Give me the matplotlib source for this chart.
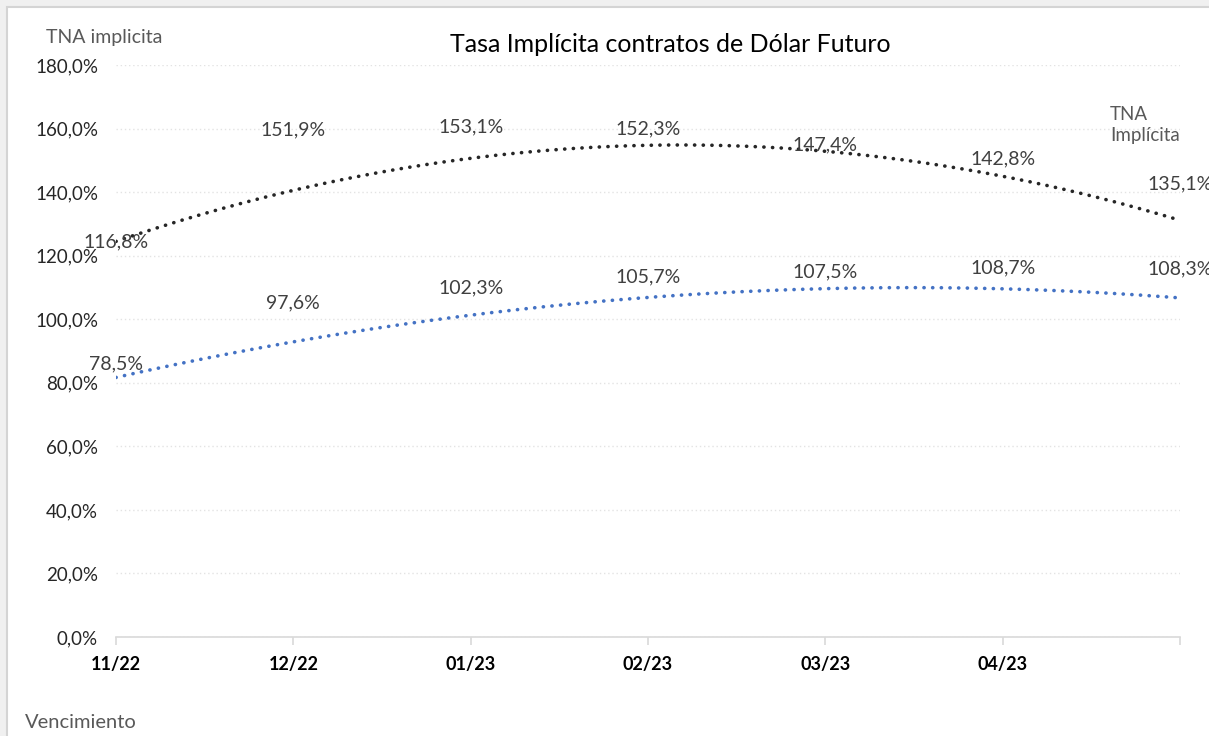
import numpy as np
import matplotlib.pyplot as plt
from matplotlib.patches import Rectangle

plt.rcParams['font.family'] = ['Lato', 'DejaVu Sans']

meses = ["11/22", "12/22", "01/23", "02/23", "03/23", "04/23", ""]
tna_futuro = [116.8, 151.9, 153.1, 152.3, 147.4, 142.8, 135.1]
tna_azul = [78.5, 97.6, 102.3, 105.7, 107.5, 108.7, 108.3]
yticks = [0, 20, 40, 60, 80, 100, 120, 140, 160, 180]

W, H = 1209, 736
fig = plt.figure(figsize=(W / 100, H / 100), dpi=100)
fig.patch.set_facecolor('#f0f0f0')
fig.add_artist(Rectangle((7 / W, -0.1), 1.2, 1 - 7 / H + 0.1, transform=fig.transFigure,
                         facecolor='white', edgecolor='#d4d4d4', linewidth=1.5, zorder=-10))

ax = fig.add_axes([116 / W, 1 - 637 / H, (1180 - 116) / W, (637 - 65) / H])
ax.set_facecolor('none')

x = np.arange(len(meses))
xs = np.linspace(0, len(meses) - 1, 300)

# lineas de tendencia polinomicas (grado 2), como en Excel
for vals, col in [(tna_futuro, '#262626'), (tna_azul, '#4472c4')]:
    coef = np.polyfit(x, vals, 2)
    ax.plot(xs, np.polyval(coef, xs), color=col, linestyle=(0, (0.05, 2.35)),
            linewidth=2.6, dash_capstyle='round', zorder=3)
    for xi, v in zip(x, vals):
        ax.annotate(f"{v:.1f}%".replace('.', ','), (xi, v), xytext=(0, 24),
                    textcoords='offset pixels', ha='center', va='center',
                    fontsize=14, color='#404040', annotation_clip=False, zorder=4)

ax.set_xlim(0, len(meses) - 1)
ax.set_ylim(0, 180)
ax.set_yticks(yticks)
ax.set_yticklabels([f"{t:.1f}%".replace('.', ',') for t in yticks], fontsize=13.5, color='#262626')
ax.set_xticks(x)
ax.set_xticklabels(meses, fontsize=13, fontweight='bold', color='#000000')
ax.tick_params(axis='y', length=0, pad=13)
ax.tick_params(axis='x', length=6, color='#d9d9d9', width=1.2, pad=8)
ax.grid(axis='y', color='#e3e3e3', linestyle=(0, (1, 2)), linewidth=1)
ax.set_axisbelow(True)
for s in ['top', 'right', 'left']:
    ax.spines[s].set_visible(False)
ax.spines['bottom'].set_color('#d9d9d9')
ax.spines['bottom'].set_linewidth(1.2)

fig.text(670 / W, 1 - 44 / H, "Tasa Implícita contratos de Dólar Futuro", ha='center', va='center',
         fontsize=18, color='#000000')
fig.text(46 / W, 1 - 37 / H, "TNA implicita", ha='left', va='center', fontsize=14, color='#595959')
fig.text(25 / W, 1 - 722 / H, "Vencimiento", ha='left', va='center', fontsize=14.5, color='#595959')
fig.text(1110 / W, 1 - 125 / H, "TNA\nImplícita", ha='left', va='center', fontsize=13.5,
         color='#595959', linespacing=1.25)

fig.savefig("out.png", dpi=100, facecolor=fig.get_facecolor())
